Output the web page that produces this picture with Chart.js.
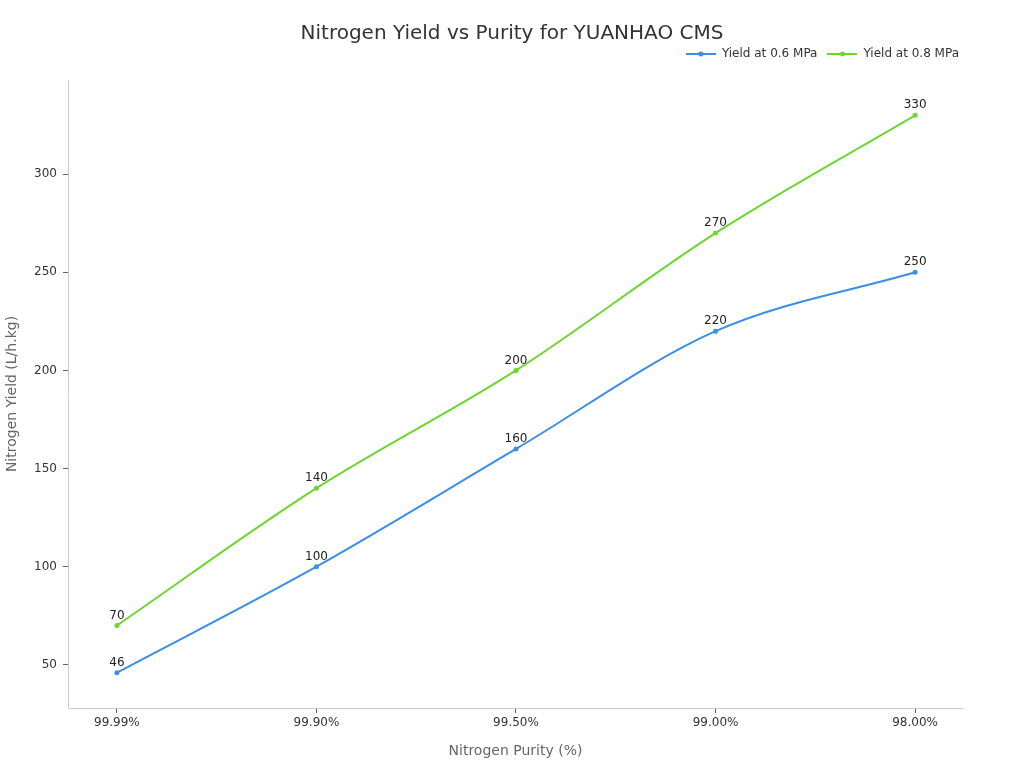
<!DOCTYPE html>
<html>
<head>
<meta charset="utf-8">
<script src="https://cdn.jsdelivr.net/npm/chart.js@4.4.0/dist/chart.umd.min.js"></script>
<style>
  html, body { margin: 0; padding: 0; background: #fff; }
  #wrap { width: 1024px; height: 768px; }
</style>
</head>
<body>
<div id="wrap"><canvas id="chart"></canvas></div>
<script>
// data
var purityLabels = ["99.99%", "99.90%", "99.50%", "99.00%", "98.00%"];
var yield06 = [46, 100, 160, 220, 250];
var yield08 = [70, 140, 200, 270, 330];
var yTicks = [50, 100, 150, 200, 250, 300];

var blue = "#3b8ee6";
var green = "#6dd52f";
var font = "DejaVu Sans";

Chart.defaults.font.family = font;
Chart.defaults.color = "#333";

function toPoints(arr) {
  return arr.map(function (v, i) { return { x: i, y: v }; });
}

// little line + dot used as legend marker
function legendMarker(color) {
  var c = document.createElement("canvas");
  c.width = 30; c.height = 8;
  var g = c.getContext("2d");
  g.strokeStyle = color;
  g.lineWidth = 2;
  g.beginPath(); g.moveTo(0, 4); g.lineTo(30, 4); g.stroke();
  g.fillStyle = color;
  g.beginPath(); g.arc(15, 4, 2.5, 0, Math.PI * 2); g.fill();
  return c;
}

var valueLabels = {
  id: "valueLabels",
  afterDatasetsDraw: function (chart) {
    var ctx = chart.ctx;
    ctx.save();
    ctx.font = "12px " + font;
    ctx.fillStyle = "#222";
    ctx.textAlign = "center";
    ctx.textBaseline = "bottom";
    chart.data.datasets.forEach(function (ds, di) {
      chart.getDatasetMeta(di).data.forEach(function (pt, i) {
        ctx.fillText(ds.data[i].y, pt.x, pt.y - 4);
      });
    });
    ctx.restore();
  }
};

var titleText = {
  id: "titleText",
  afterDraw: function (chart) {
    var ctx = chart.ctx;
    ctx.save();
    ctx.font = "20px " + font;
    ctx.fillStyle = "#333";
    ctx.textAlign = "center";
    ctx.textBaseline = "middle";
    ctx.fillText("Nitrogen Yield vs Purity for YUANHAO CMS", 512, 34);
    ctx.restore();
  }
};

// keep legend where the reference has it
var legendBox = {
  id: "legendBox",
  beforeLayout: function (chart) {
    var lg = chart.legend;
    if (lg && !lg._patched) {
      var fit = lg.fit;
      lg.fit = function () { fit.call(this); this.height = 42; };
      lg._patched = true;
    }
  },
  afterLayout: function (chart) {
    chart.legend.left += 6;
    chart.legend.right += 6;
  }
};

var ctx = document.getElementById("chart");
new Chart(ctx, {
  type: "line",
  data: {
    datasets: [{
      label: "Yield at 0.6 MPa",
      data: toPoints(yield06),
      borderColor: blue,
      backgroundColor: blue,
      borderWidth: 2,
      pointRadius: 2.5,
      pointBorderWidth: 0,
      cubicInterpolationMode: "monotone",
      fill: false
    }, {
      label: "Yield at 0.8 MPa",
      data: toPoints(yield08),
      borderColor: green,
      backgroundColor: green,
      borderWidth: 2,
      pointRadius: 2.5,
      pointBorderWidth: 0,
      cubicInterpolationMode: "monotone",
      fill: false
    }]
  },
  options: {
    responsive: true,
    maintainAspectRatio: false,
    animation: false,
    layout: { padding: { top: 38, right: 61, left: 0, bottom: 0 } },
    plugins: {
      title: { display: false },
      tooltip: { enabled: false },
      legend: {
        position: "top",
        align: "end",
        labels: {
          usePointStyle: true,
          pointStyleWidth: 30,
          padding: 10,
          color: "#333",
          font: { size: 12 },
          generateLabels: function (chart) {
            return chart.data.datasets.map(function (ds, i) {
              return {
                text: ds.label,
                pointStyle: legendMarker(ds.borderColor),
                fillStyle: ds.borderColor,
                strokeStyle: ds.borderColor,
                lineWidth: 0,
                fontColor: "#333",
                datasetIndex: i,
                hidden: false
              };
            });
          }
        }
      }
    },
    scales: {
      x: {
        type: "linear",
        min: -0.245,
        max: 4.24,
        afterBuildTicks: function (s) {
          s.ticks = purityLabels.map(function (l, i) { return { value: i }; });
        },
        afterFit: function (s) { s.height = 60; },
        ticks: {
          color: "#333",
          font: { size: 12 },
          padding: 3,
          callback: function (v) { return purityLabels[v]; }
        },
        grid: { drawOnChartArea: false, drawTicks: true, tickLength: 5, color: "#666" },
        border: { color: "#ccc" },
        title: {
          display: true,
          text: "Nitrogen Purity (%)",
          color: "#666",
          font: { size: 14 },
          padding: { top: 4, bottom: 8 }
        }
      },
      y: {
        min: 28,
        max: 348,
        afterBuildTicks: function (s) {
          s.ticks = yTicks.map(function (v) { return { value: v }; });
        },
        afterFit: function (s) { s.width = 68; },
        ticks: { color: "#333", font: { size: 12 }, padding: 6 },
        grid: { drawOnChartArea: false, drawTicks: true, tickLength: 5, color: "#666" },
        border: { color: "#ccc" },
        title: {
          display: true,
          text: "Nitrogen Yield (L/h.kg)",
          color: "#666",
          font: { size: 14 },
          padding: { top: 4, bottom: 4 }
        }
      }
    }
  },
  plugins: [valueLabels, titleText, legendBox]
});
</script>
</body>
</html>
